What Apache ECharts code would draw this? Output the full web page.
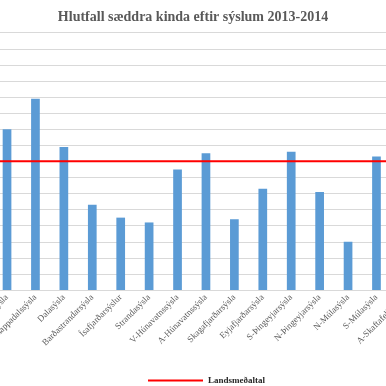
<!DOCTYPE html>
<html>
<head>
<meta charset="utf-8">
<script src="https://cdn.jsdelivr.net/npm/echarts@6/dist/echarts.min.js"></script>
<style>
html,body{margin:0;padding:0;background:#fff;overflow:hidden;}
#c{width:386px;height:386px;}
</style>
</head>
<body>
<div id="c"></div>
<script>
// Categories (the reference is a crop; outer neighbours are off-screen)
const categories = [
  "Borgarfjarðarsýsla",
  "Mýrasýsla",
  "Snæ- og Hnappadalssýsla",
  "Dalasýsla",
  "Barðastrandarsýsla",
  "Ísafjarðarsýslur",
  "Strandasýsla",
  "V-Húnavatnssýsla",
  "A-Húnavatnssýsla",
  "Skagafjarðarsýsla",
  "Eyjafjarðarsýsla",
  "S-Þingeyjarsýsla",
  "N-Þingeyjarsýsla",
  "N-Múlasýsla",
  "S-Múlasýsla",
  "A-Skaftafellssýsla"
];
// Share of inseminated ewes (%); off-screen bars unknown
const hlutfall = [null, 10.0, 11.9, 8.9, 5.3, 4.5, 4.2, 7.5, 8.5, 4.4, 6.3, 8.6, 6.1, 3.0, 8.3, null];
const landsmedaltal = 8.0;
const landsmedaltalSeries = categories.map(() => landsmedaltal);

const chart = echarts.init(document.getElementById('c'), null, {renderer: 'canvas'});
const serif = '"Liberation Serif", "DejaVu Serif", serif';
chart.setOption({
  backgroundColor: '#ffffff',
  animation: false,
  title: {
    text: 'Hlutfall sæddra kinda eftir sýslum 2013-2014',
    left: 'center',
    top: 5,
    textStyle: {fontFamily: serif, fontWeight: 'bold', fontSize: 14, color: '#595959'}
  },
  legend: {
    data: [{name: 'Landsmeðaltal', icon: 'rect'}],
    left: 143,
    top: 371,
    itemWidth: 55,
    itemHeight: 2,
    itemGap: 10,
    textStyle: {fontFamily: serif, fontWeight: 'bold', fontSize: 9, color: '#262626'}
  },
  grid: {
    left: -35.6,
    right: -33.1,
    top: 32.7,
    bottom: 96,
    containLabel: false,
    outerBoundsMode: 'none'
  },
  xAxis: {
    type: 'category',
    data: categories,
    boundaryGap: true,
    axisLine: {lineStyle: {color: '#d9d9d9', width: 1}},
    axisTick: {show: false},
    axisLabel: {
      interval: 0,
      rotate: 45,
      margin: 6,
      fontFamily: serif,
      fontSize: 9,
      color: '#595959',
      hideOverlap: false
    }
  },
  yAxis: {
    type: 'value',
    min: 0,
    max: 16,
    interval: 1,
    axisLine: {show: false},
    axisTick: {show: false},
    axisLabel: {show: false},
    splitLine: {lineStyle: {color: '#d9d9d9', width: 1}}
  },
  series: [
    {
      name: 'Hlutfall',
      type: 'bar',
      data: hlutfall,
      barWidth: 8.7,
      itemStyle: {color: '#5b9bd5'}
    },
    {
      name: 'Landsmeðaltal',
      type: 'line',
      data: landsmedaltalSeries,
      symbol: 'none',
      lineStyle: {color: '#ff0000', width: 2},
      itemStyle: {color: '#ff0000'},
      z: 3
    }
  ]
});
</script>
</body>
</html>
